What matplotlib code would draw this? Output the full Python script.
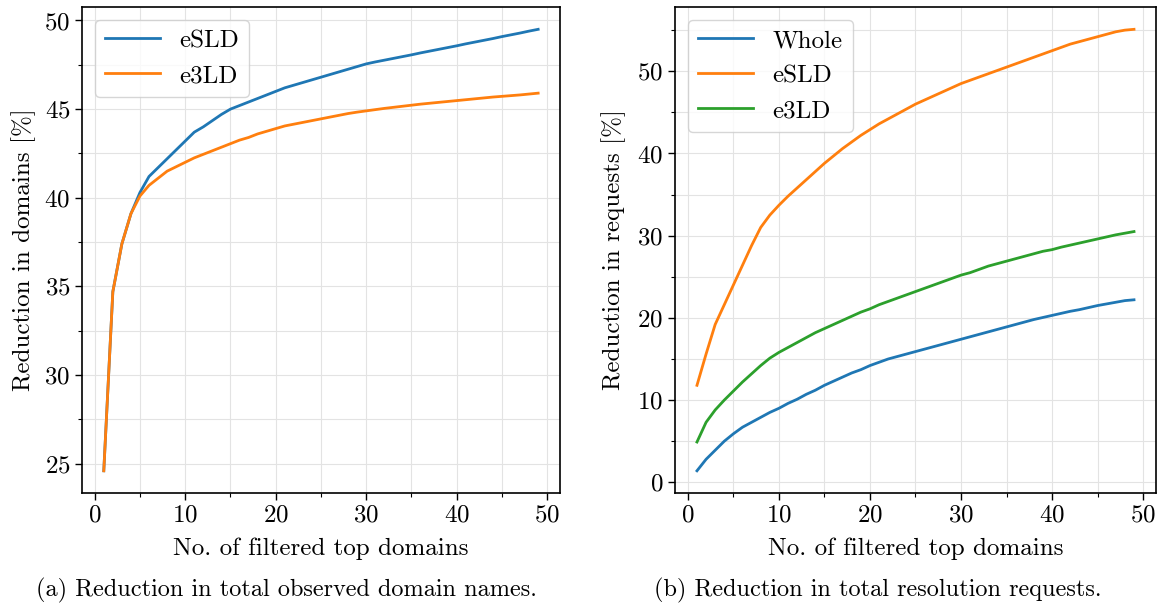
import matplotlib
matplotlib.use("Agg")
import matplotlib.pyplot as plt
from matplotlib.ticker import MultipleLocator

plt.rcParams["font.family"] = ["cmr10", "DejaVu Serif"]
plt.rcParams["axes.formatter.use_mathtext"] = True
plt.rcParams["axes.unicode_minus"] = False

# number of filtered top domains
top_n = list(range(1, 50))

# (a) reduction in observed domain names [%]
dom_esld = [24.6, 34.7, 37.4, 39.1, 40.3, 41.2, 41.7, 42.2, 42.7, 43.2,
            43.7, 44.0, 44.35, 44.7, 45.0, 45.2, 45.4, 45.6, 45.8, 46.0,
            46.2, 46.35, 46.5, 46.65, 46.8, 46.95, 47.1, 47.25, 47.4, 47.55,
            47.66, 47.76, 47.86, 47.96, 48.06, 48.17, 48.27, 48.37, 48.47, 48.57,
            48.68, 48.78, 48.88, 48.98, 49.09, 49.19, 49.29, 49.4, 49.5]
dom_e3ld = [24.6, 34.7, 37.4, 39.1, 40.1, 40.7, 41.1, 41.5, 41.75, 42.0,
            42.25, 42.45, 42.65, 42.85, 43.05, 43.25, 43.4, 43.6, 43.75, 43.9,
            44.05, 44.15, 44.25, 44.35, 44.45, 44.55, 44.65, 44.75, 44.83, 44.9,
            44.97, 45.04, 45.1, 45.16, 45.22, 45.28, 45.33, 45.38, 45.43, 45.48,
            45.53, 45.58, 45.63, 45.68, 45.72, 45.76, 45.8, 45.85, 45.9]

# (b) reduction in resolution requests [%]
req_whole = [1.4, 2.8, 3.9, 5.0, 5.9, 6.7, 7.3, 7.9, 8.5, 9.0,
             9.6, 10.1, 10.7, 11.2, 11.8, 12.3, 12.8, 13.3, 13.7, 14.2,
             14.6, 15.0, 15.3, 15.6, 15.9, 16.2, 16.5, 16.8, 17.1, 17.4,
             17.7, 18.0, 18.3, 18.6, 18.9, 19.2, 19.5, 19.8, 20.05, 20.3,
             20.55, 20.8, 21.0, 21.25, 21.5, 21.7, 21.9, 22.1, 22.2]
req_esld = [11.8, 15.6, 19.2, 21.6, 24.0, 26.4, 28.8, 31.0, 32.5, 33.7,
            34.8, 35.8, 36.8, 37.8, 38.8, 39.7, 40.6, 41.4, 42.2, 42.9,
            43.6, 44.2, 44.8, 45.4, 46.0, 46.5, 47.0, 47.5, 48.0, 48.5,
            48.9, 49.3, 49.7, 50.1, 50.5, 50.9, 51.3, 51.7, 52.1, 52.5,
            52.9, 53.3, 53.6, 53.9, 54.2, 54.5, 54.8, 55.0, 55.1]
req_e3ld = [4.9, 7.3, 8.8, 10.0, 11.1, 12.2, 13.2, 14.2, 15.1, 15.8,
            16.4, 17.0, 17.6, 18.2, 18.7, 19.2, 19.7, 20.2, 20.7, 21.1,
            21.6, 22.0, 22.4, 22.8, 23.2, 23.6, 24.0, 24.4, 24.8, 25.2,
            25.5, 25.9, 26.3, 26.6, 26.9, 27.2, 27.5, 27.8, 28.1, 28.3,
            28.6, 28.85, 29.1, 29.35, 29.6, 29.85, 30.1, 30.3, 30.5]

FS_TICK = 18
FS_LABEL = 18
FS_CAP = 17.5
C_BLUE, C_ORANGE, C_GREEN = "#1f77b4", "#ff7f0e", "#2ca02c"

fig = plt.figure(figsize=(11.64, 6.04), dpi=100)
ax1 = fig.add_axes([0.0705, 0.184, 0.4105, 0.804])
ax2 = fig.add_axes([0.580, 0.184, 0.413, 0.804])


def style(ax, ymajor, yminor):
    ax.xaxis.set_major_locator(MultipleLocator(10))
    ax.xaxis.set_minor_locator(MultipleLocator(5))
    ax.yaxis.set_major_locator(MultipleLocator(ymajor))
    ax.yaxis.set_minor_locator(MultipleLocator(yminor))
    ax.grid(True, which="both", color="#e3e3e3", linewidth=0.8)
    ax.set_axisbelow(True)
    ax.tick_params(which="major", labelsize=FS_TICK, length=5, width=1)
    ax.tick_params(which="minor", length=3, width=0.8)
    for s in ax.spines.values():
        s.set_linewidth(1.2)
    ax.set_xlabel("No. of filtered top domains", fontsize=FS_LABEL, labelpad=8)


ax1.plot(top_n, dom_esld, color=C_BLUE, lw=2, label="eSLD")
ax1.plot(top_n, dom_e3ld, color=C_ORANGE, lw=2, label="e3LD")
style(ax1, 5, 2.5)
ax1.set_ylabel("Reduction in domains [%]", fontsize=FS_LABEL, labelpad=6)
ax1.legend(loc="upper left", fontsize=FS_TICK, handlelength=2.2)

ax2.plot(top_n, req_whole, color=C_BLUE, lw=2, label="Whole")
ax2.plot(top_n, req_esld, color=C_ORANGE, lw=2, label="eSLD")
ax2.plot(top_n, req_e3ld, color=C_GREEN, lw=2, label="e3LD")
style(ax2, 10, 5)
ax2.set_ylabel("Reduction in requests [%]", fontsize=FS_LABEL, labelpad=8)
ax2.legend(loc="upper left", fontsize=FS_TICK, handlelength=2.2)

fig.text(0.246, 0.023, "(a) Reduction in total observed domain names.",
         ha="center", va="center", fontsize=FS_CAP)
fig.text(0.754, 0.023, "(b) Reduction in total resolution requests.",
         ha="center", va="center", fontsize=FS_CAP)

fig.savefig("out.png", dpi=100)
